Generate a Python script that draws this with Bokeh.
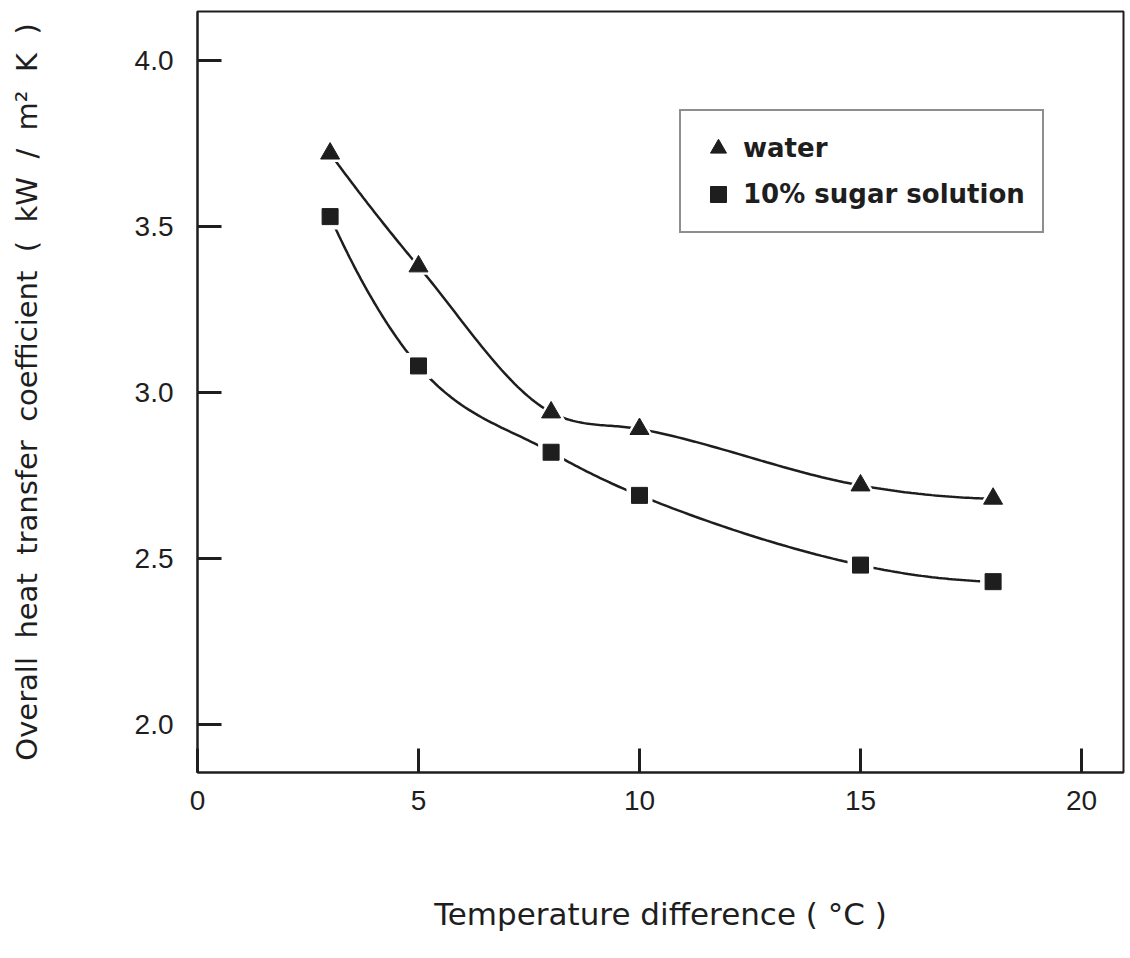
import numpy as np
from bokeh.plotting import figure
from bokeh.models import FixedTicker, PrintfTickFormatter, Legend, LegendItem, Range1d
from bokeh.embed import file_html
from bokeh.resources import INLINE

# ---- data ----
temp_diff = [3, 5, 8, 10, 15, 18]
water = [3.72, 3.38, 2.94, 2.89, 2.72, 2.68]
sugar = [3.53, 3.08, 2.82, 2.69, 2.48, 2.43]
series_names = ["water", "10% sugar solution"]
x_ticks = [0, 5, 10, 15, 20]
y_ticks = [2.0, 2.5, 3.0, 3.5, 4.0]
x_title = "Temperature difference ( °C )"
y_title = "Overall heat transfer coefficient ( kW / m² K )"

INK = "#1e1e1e"
NB = "\u00a0"


def spaced(s):
    # wide word spacing as in the original typesetting
    return s.replace(" ", NB + NB)


def smooth(xs, ys, n=40):
    """Cubic Hermite curve through the data points (monotonicity-limited)."""
    x = np.asarray(xs, float)
    y = np.asarray(ys, float)
    h = np.diff(x)
    d = np.diff(y) / h
    m = np.empty_like(y)
    m[1:-1] = (d[:-1] + d[1:]) / 2
    m[0] = 2 * d[0] - m[1]
    m[-1] = 2 * d[-1] - m[-2]
    for i in range(len(d)):
        a, b = m[i] / d[i], m[i + 1] / d[i]
        s = a * a + b * b
        if s > 9:
            t = 3 / np.sqrt(s)
            m[i], m[i + 1] = t * a * d[i], t * b * d[i]
    xo, yo = [], []
    for i in range(len(x) - 1):
        t = np.linspace(0, 1, n, endpoint=(i == len(x) - 2))
        h00 = 2 * t**3 - 3 * t**2 + 1
        h10 = t**3 - 2 * t**2 + t
        h01 = -2 * t**3 + 3 * t**2
        h11 = t**3 - t**2
        xo.extend(x[i] + t * h[i])
        yo.extend(h00 * y[i] + h10 * h[i] * m[i] + h01 * y[i + 1] + h11 * h[i] * m[i + 1])
    return xo, yo


p = figure(width=1130, height=958, output_backend="svg", toolbar_location=None,
           x_range=Range1d(0, 20.95), y_range=Range1d(1.855, 4.148),
           min_border_left=197, min_border_right=7, min_border_top=11, min_border_bottom=186)
p.background_fill_color = "white"
p.border_fill_color = "white"
p.grid.visible = False
p.outline_line_color = INK
p.outline_line_width = 2

for ax in (p.xaxis[0], p.yaxis[0]):
    ax.axis_line_color = INK
    ax.axis_line_width = 2
    ax.major_tick_in = 24
    ax.major_tick_out = 0
    ax.major_tick_line_width = 3
    ax.major_tick_line_color = INK
    ax.minor_tick_line_color = None
    ax.major_label_text_font = "Liberation Sans"
    ax.major_label_text_font_size = "28px"
    ax.major_label_text_color = INK
    ax.axis_label_text_font = "DejaVu Sans"
    ax.axis_label_text_font_style = "normal"
    ax.axis_label_text_font_size = "29px"
    ax.axis_label_text_color = INK

p.xaxis.axis_label_text_font_size = "31px"
p.xaxis.major_label_standoff = 18
p.yaxis.major_label_standoff = 24
p.xaxis.ticker = FixedTicker(ticks=x_ticks)
p.yaxis.ticker = FixedTicker(ticks=y_ticks)
p.xaxis.formatter = PrintfTickFormatter(format="%d")
p.yaxis.formatter = PrintfTickFormatter(format="%.1f")
p.xaxis.axis_label = x_title.replace(" ", NB)
p.yaxis.axis_label = spaced(y_title)
p.xaxis.axis_label_standoff = 83
p.yaxis.axis_label_standoff = 88

# curves
for ys in (water, sugar):
    cx, cy = smooth(temp_diff, ys)
    p.line(cx, cy, line_color=INK, line_width=2.5)

# white halos so lines stop short of the markers
p.scatter(temp_diff, water, marker="triangle", size=29, fill_color="white", line_color=None)
p.scatter(temp_diff, sugar, marker="square", size=26, fill_color="white", line_color=None)

r_w = p.scatter(temp_diff, water, marker="triangle", size=19, fill_color=INK, line_color=INK)
r_s = p.scatter(temp_diff, sugar, marker="square", size=16, fill_color=INK, line_color=INK)

legend = Legend(items=[LegendItem(label=series_names[0], renderers=[r_w]),
                       LegendItem(label=series_names[1], renderers=[r_s])],
                location=(482, 539))
legend.label_text_font = "DejaVu Sans"
legend.label_text_font_style = "bold"
legend.label_text_font_size = "26px"
legend.label_text_color = INK
legend.glyph_width = 40
legend.glyph_height = 40
legend.label_standoff = 5
legend.padding = 17
legend.spacing = 6
legend.margin = 0
legend.border_line_color = INK
legend.border_line_width = 2.5
legend.background_fill_color = "white"
legend.background_fill_alpha = 1
p.add_layout(legend, "center")

open("out.html", "w").write(file_html(p, INLINE))
